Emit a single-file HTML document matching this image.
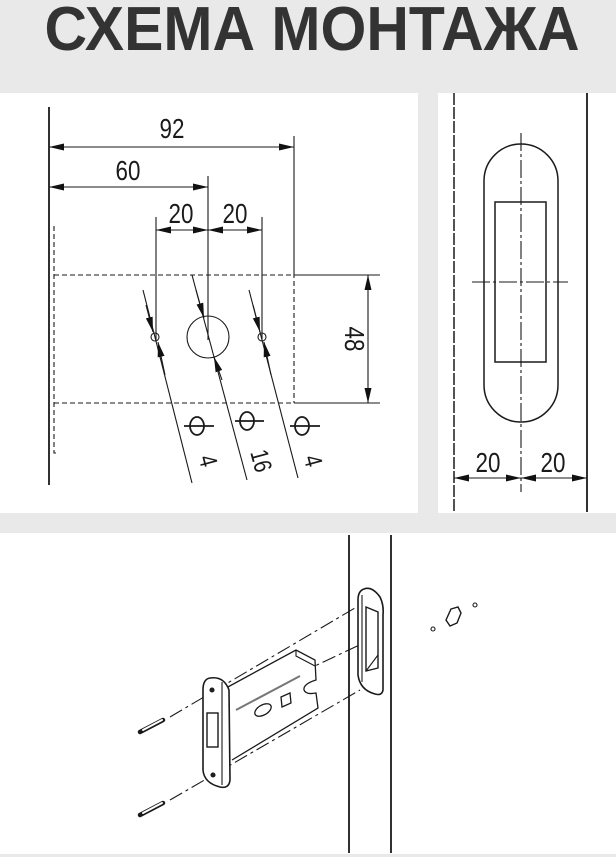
<!DOCTYPE html>
<html><head><meta charset="utf-8"><style>
html,body{margin:0;padding:0;background:#e8e8e8;}
svg{display:block;}
</style></head><body>
<svg width="616" height="857" viewBox="0 0 616 857" xmlns="http://www.w3.org/2000/svg" font-family="Liberation Sans, sans-serif">
<defs>
<marker id="a" viewBox="0 0 10 6" refX="10" refY="3" markerWidth="15" markerHeight="7" markerUnits="userSpaceOnUse" orient="auto-start-reverse" preserveAspectRatio="none"><path d="M0,0L10,3L0,6z" fill="#111"/></marker>
</defs>
<rect width="616" height="857" fill="#e9e9e9"/>
<text x="312" y="50" font-size="62" font-weight="bold" fill="#333" text-anchor="middle" textLength="535" lengthAdjust="spacingAndGlyphs">СХЕМА МОНТАЖА</text>
<rect x="0" y="93" width="418" height="420" fill="#fff"/>
<rect x="438" y="93" width="178" height="420" fill="#fff"/>
<rect x="0" y="533" width="616" height="321" fill="#fff"/>

<g stroke="#1a1a1a" fill="none" stroke-width="1.1">
<line x1="49" y1="107" x2="49" y2="485" stroke-width="1.8"/>
<path d="M54 226V453h2" stroke-dasharray="5,3"/>
<line x1="49" y1="147" x2="294" y2="147" marker-start="url(#a)" marker-end="url(#a)"/>
<line x1="294" y1="136" x2="294" y2="273"/>
<line x1="294" y1="273" x2="294" y2="403" stroke-dasharray="5,3"/>
<line x1="49" y1="187" x2="208" y2="187" marker-start="url(#a)" marker-end="url(#a)"/>
<line x1="208" y1="176" x2="208" y2="340"/>
<line x1="156" y1="217" x2="156" y2="340"/>
<line x1="262" y1="217" x2="262" y2="340"/>
<line x1="208" y1="230" x2="156" y2="230" marker-end="url(#a)"/>
<line x1="208" y1="230" x2="262" y2="230" marker-end="url(#a)"/>
<line x1="180" y1="230" x2="208" y2="230" marker-end="url(#a)"/>
<line x1="236" y1="230" x2="208" y2="230" marker-end="url(#a)"/>
<line x1="54" y1="275" x2="380" y2="275" stroke-dasharray="5,3"/>
<line x1="54" y1="403" x2="294" y2="403" stroke-dasharray="5,3"/>
<line x1="294" y1="275" x2="380" y2="275"/>
<line x1="294" y1="403" x2="380" y2="403"/>
<line x1="368" y1="275" x2="368" y2="403" marker-start="url(#a)" marker-end="url(#a)"/>
<circle cx="155" cy="337" r="4"/>
<circle cx="262" cy="337" r="4"/>
<circle cx="208" cy="337" r="21"/>
<line x1="143" y1="290" x2="192" y2="483"/>
<line x1="192" y1="275" x2="247" y2="480"/>
<line x1="249" y1="290" x2="298" y2="478"/>
<line x1="146" y1="305" x2="153" y2="332" marker-end="url(#a)"/>
<line x1="165" y1="375" x2="158" y2="342" marker-end="url(#a)"/>
<line x1="196" y1="290" x2="204" y2="318" marker-end="url(#a)"/>
<line x1="222" y1="380" x2="214" y2="357" marker-end="url(#a)"/>
<line x1="253" y1="305" x2="260" y2="332" marker-end="url(#a)"/>
<line x1="271" y1="375" x2="264" y2="342" marker-end="url(#a)"/>
<g stroke-width="1.8"><ellipse cx="197" cy="426" rx="7" ry="9"/><line x1="184" y1="426" x2="214" y2="426"/>
<ellipse cx="247" cy="421" rx="7" ry="9"/><line x1="235" y1="421" x2="264" y2="421"/>
<ellipse cx="302" cy="426" rx="7" ry="9"/><line x1="290" y1="426" x2="320" y2="426"/></g>
</g>
<g fill="#1a1a1a" font-size="28">
<text x="172" y="138" text-anchor="middle" transform="translate(172 0) scale(0.8 1) translate(-172 0)">92</text>
<text x="128" y="180" text-anchor="middle" transform="translate(128 0) scale(0.8 1) translate(-128 0)">60</text>
<text x="181" y="223" text-anchor="middle" transform="translate(181 0) scale(0.8 1) translate(-181 0)">20</text>
<text x="235" y="223" text-anchor="middle" transform="translate(235 0) scale(0.8 1) translate(-235 0)">20</text>
<text transform="translate(345 339) rotate(90) scale(0.8 1)" text-anchor="middle">48</text>
<text transform="translate(200 463) rotate(75) scale(0.8 1)" text-anchor="middle" font-size="25">4</text>
<text transform="translate(253 463) rotate(75) scale(0.8 1)" text-anchor="middle" font-size="25">16</text>
<text transform="translate(305 463) rotate(75) scale(0.8 1)" text-anchor="middle" font-size="25">4</text>
<text x="488" y="472" text-anchor="middle" transform="translate(488 0) scale(0.8 1) translate(-488 0)">20</text>
<text x="553" y="472" text-anchor="middle" transform="translate(553 0) scale(0.8 1) translate(-553 0)">20</text>
</g>

<g stroke="#1a1a1a" fill="none" stroke-width="1.1">
<line x1="454" y1="93" x2="454" y2="512" stroke-width="1.5" stroke-dasharray="12,2"/>
<line x1="587" y1="93" x2="587" y2="512" stroke-width="1.8"/>
<rect x="484" y="144" width="74" height="278" rx="37" stroke-width="1.5"/>
<rect x="495" y="202" width="51" height="160" stroke-width="1.5"/>
<line x1="521" y1="133" x2="521" y2="492" stroke-dasharray="18,3,3,3"/>
<line x1="472" y1="282" x2="568" y2="282" stroke-dasharray="18,3,3,3"/>
<line x1="488" y1="478" x2="454" y2="478" marker-end="url(#a)"/>
<line x1="488" y1="478" x2="521" y2="478" marker-end="url(#a)"/>
<line x1="553" y1="478" x2="521" y2="478" marker-end="url(#a)"/>
<line x1="553" y1="478" x2="587" y2="478" marker-end="url(#a)"/>
</g>

<g stroke="#1a1a1a" fill="none" stroke-width="1.1">
<line x1="349" y1="535" x2="349" y2="853" stroke-width="1.8"/>
<line x1="391" y1="535" x2="391" y2="853" stroke-width="1.8"/>
<g stroke-dasharray="14,4,3,4">
<line x1="170" y1="717" x2="360" y2="605"/>
<line x1="170" y1="800" x2="360" y2="690"/>
<line x1="300" y1="673" x2="370" y2="640"/>
</g>
<path d="M364 589Q372 586 380 597Q384 605 383 615L383 690Q382 696 375 694Q360 690 358 675L358 600Q358 591 364 589Z" stroke-width="1.6" fill="#fff"/>
<path d="M362 595V682" />
<path d="M366 607L378 612V668L366 671Z" stroke-width="1.4"/>
<path d="M366 671L378 655"/>
<path d="M226 688L296 650L315 660L316 680Q303 684 304 690Q306 695 316 693L318 708L232 760" fill="#fff" stroke-width="1.3"/>
<path d="M296 650L296 656L315 666"/>
<path d="M236 710L300 676" stroke="#777" stroke-width="2"/>
<ellipse cx="263" cy="710" rx="9" ry="5" transform="rotate(-30 263 710)" stroke-width="1.3"/>
<path d="M281 697L290 693L291 703L282 707Z" stroke-width="1.3"/>
<path d="M210 678Q224 676 229 690L230 780Q229 789 220 787Q204 783 203 770L203 690Q203 679 210 678Z" fill="#fff" stroke-width="1.6"/>
<path d="M222 682V785"/>
<rect x="207" y="713" width="11" height="34" stroke-width="1.4"/>
<circle cx="212" cy="690" r="2" fill="#222"/>
<circle cx="213" cy="775" r="2" fill="#222"/>
<g stroke-width="4.5" stroke-linecap="round"><line x1="140" y1="732" x2="163" y2="720"/><line x1="140" y1="815" x2="163" y2="803"/></g>
<g stroke="#fff" stroke-width="2" stroke-linecap="round"><line x1="143" y1="730" x2="162" y2="720"/><line x1="143" y1="813" x2="162" y2="803"/></g>
<circle cx="433" cy="629" r="2"/>
<circle cx="475" cy="605" r="2"/>
<path d="M451 609L458 607L461 613L457 623L450 626L446 620Z" stroke-width="1.4"/>
</g>
</svg>
</body></html>
